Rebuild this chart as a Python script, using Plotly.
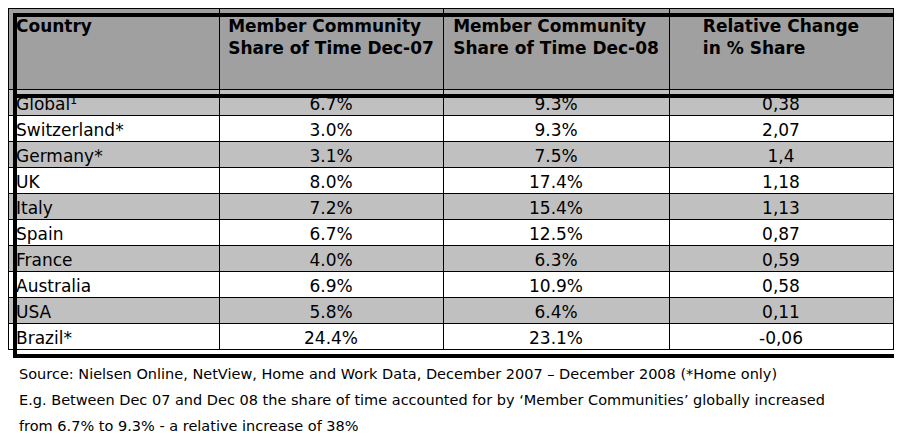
import plotly.graph_objects as go

countries = ["Global¹", "Switzerland*", "Germany*", "UK", "Italy", "Spain", "France", "Australia", "USA", "Brazil*"]
dec07 = ["6.7%", "3.0%", "3.1%", "8.0%", "7.2%", "6.7%", "4.0%", "6.9%", "5.8%", "24.4%"]
dec08 = ["9.3%", "9.3%", "7.5%", "17.4%", "15.4%", "12.5%", "6.3%", "10.9%", "6.4%", "23.1%"]
rel = ["0,38", "2,07", "1,4", "1,18", "1,13", "0,87", "0,59", "0,58", "0,11", "-0,06"]
headers = ["<br>Country", "Member Community<br>Share of Time Dec-07", "Member Community<br>Share of Time Dec-08", "Relative Change<br>in % Share"]
notes = [
    "Source: Nielsen Online, NetView, Home and Work Data, December 2007 – December 2008 (*Home only)",
    "E.g. Between Dec 07 and Dec 08 the share of time accounted for by ‘Member Communities’ globally increased",
    "from 6.7% to 9.3% - a relative increase of 38%",
]

W, H = 902, 435
fills = ["#c0c0c0" if i % 2 == 0 else "#ffffff" for i in range(len(countries))]
font = "DejaVu Sans"

fig = go.Figure(go.Table(
    domain=dict(x=[0, 885/W], y=[0, 1]),
    columnwidth=[211, 224, 226, 224],
    header=dict(values=[f"<b>{h}</b>" for h in headers], fill_color="#a0a0a0",
                line=dict(color="black", width=1), height=81,
                align=["left", "center", "center", "center"],
                font=dict(family=font, size=17, color="black")),
    cells=dict(values=[countries, dec07, dec08, rel], fill_color=[fills]*4,
               line=dict(color="black", width=1), height=26,
               align=["left", "center", "center", "center"],
               font=dict(family=font, size=17, color="black")),
))
fig.add_shape(type="rect", xref="paper", yref="paper", x0=7/W, x1=892/W, y0=1-348/H, y1=1-7/H,
              line=dict(color="black", width=4))
fig.add_shape(type="line", xref="paper", yref="paper", x0=7/W, x1=892/W, y0=1-88/H, y1=1-88/H,
              line=dict(color="black", width=4))
for i, t in enumerate(notes):
    fig.add_annotation(text=t, xref="paper", yref="paper", x=9/W, y=1-(366+26*i)/H,
                       xanchor="left", yanchor="middle", showarrow=False,
                       font=dict(family=font, size=14.5, color="black"))
fig.update_layout(width=W, height=H, margin=dict(l=0, r=0, t=0, b=0), paper_bgcolor="white")
fig.write_html("out.html")
